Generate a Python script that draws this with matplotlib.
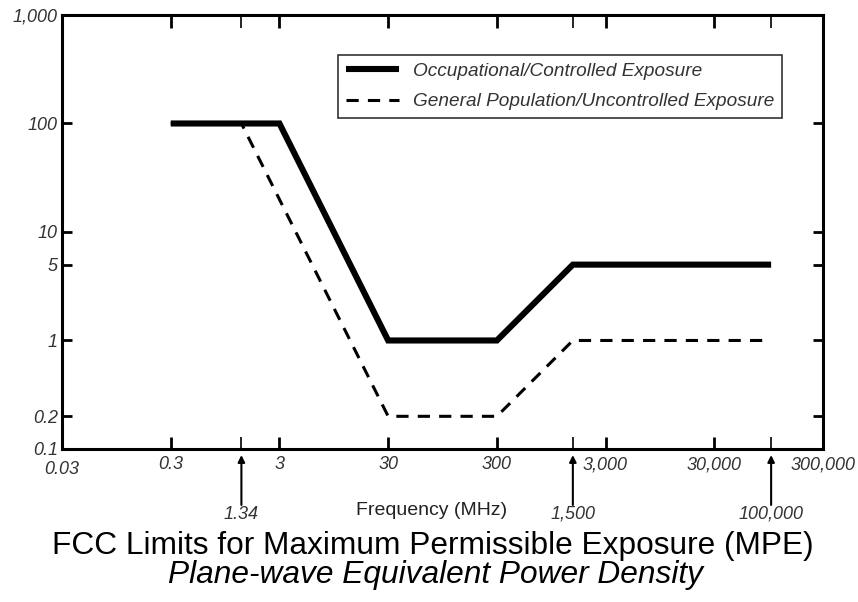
import matplotlib
matplotlib.use("Agg")
from matplotlib import pyplot as plt

plt.rcParams["font.family"] = ["Liberation Sans", "DejaVu Sans"]

# FCC MPE limits (power density, mW/cm^2) vs frequency (MHz)
occ_freq = [0.3, 3, 30, 300, 1500, 100000]
occ_mpe = [100, 100, 1, 1, 5, 5]
gen_freq = [0.3, 1.34, 30, 300, 1500, 100000]
gen_mpe = [100, 100, 0.2, 0.2, 1, 1]

x_ticks = [0.03, 0.3, 3, 30, 300, 3000, 30000, 300000]
x_tick_labels = ["0.03", "0.3", "3", "30", "300", "3,000", "30,000", "300,000"]
x_marks = [1.34, 1500, 100000]
x_mark_labels = ["1.34", "1,500", "100,000"]
y_ticks = [0.1, 0.2, 1, 5, 10, 100, 1000]
y_tick_labels = ["0.1", "0.2", "1", "5", "10", "100", "1,000"]

tick_col = "#333333"

fig = plt.figure(figsize=(8.58, 6.02), dpi=100)
ax = fig.add_axes([0.0723, 0.2542, 0.8869, 0.7209])

ax.plot(gen_freq, gen_mpe, color="black", lw=2.2, ls=(0, (4.0, 3.0)),
        label="General Population/Uncontrolled Exposure")
ax.plot(occ_freq, occ_mpe, color="black", lw=4.4, solid_capstyle="butt",
        solid_joinstyle="miter", label="Occupational/Controlled Exposure")

ax.set_xscale("log")
ax.set_yscale("log")
ax.set_xlim(0.03, 300000)
ax.set_ylim(0.1, 1000)

for s in ax.spines.values():
    s.set_linewidth(2.2)

ax.set_xticks(x_ticks)
ax.set_xticks(x_marks, minor=True)
ax.set_yticks(y_ticks)
ax.set_yticklabels(y_tick_labels, fontstyle="italic", fontsize=13, color=tick_col)
ax.set_yticks([], minor=True)
ax.tick_params(axis="x", which="both", labelbottom=False, direction="in",
               top=True, bottom=True)
ax.tick_params(axis="x", which="major", length=9, width=2)
ax.tick_params(axis="x", which="minor", length=9, width=1.2)
ax.tick_params(axis="y", which="major", direction="in", length=7, width=2,
               left=True, right=True, pad=3)

# x tick labels drawn by hand so 0.03 can sit a bit lower
for xv, lab in zip(x_ticks, x_tick_labels):
    dy = -0.048 if xv == 0.03 else -0.036
    ax.text(xv, dy, lab, transform=ax.get_xaxis_transform(), ha="center",
            va="center", fontstyle="italic", fontsize=13, color=tick_col)

# arrows pointing at the break frequencies
for xv, lab in zip(x_marks, x_mark_labels):
    ax.annotate("", xy=(xv, -0.014), xytext=(xv, -0.129),
                xycoords=("data", "axes fraction"),
                textcoords=("data", "axes fraction"),
                arrowprops=dict(arrowstyle="-|>", color="black", lw=1.5,
                                mutation_scale=10, shrinkA=0, shrinkB=0))
    ax.text(xv, -0.150, lab, transform=ax.get_xaxis_transform(), ha="center",
            va="center", fontstyle="italic", fontsize=13, color=tick_col)

ax.text(0.485, -0.142, "Frequency (MHz)", transform=ax.transAxes, ha="center",
        va="center", fontsize=14, color="#222222")

handles, labels = ax.get_legend_handles_labels()
leg = ax.legend(handles[::-1], labels[::-1], loc="upper right",
                bbox_to_anchor=(0.946, 0.908), fancybox=False, frameon=True,
                edgecolor="black", handlelength=2.78, borderpad=0.4,
                labelspacing=0.7, handletextpad=0.75, borderaxespad=0,
                prop=dict(style="italic", size=13.7))
leg.get_frame().set_linewidth(1.2)
for t in leg.get_texts():
    t.set_color(tick_col)

fig.text(0.505, 1 - 554 / 602, "FCC Limits for Maximum Permissible Exposure (MPE)",
         ha="center", va="baseline", fontsize=22.8, color="black")
fig.text(0.507, 1 - 583 / 602, "Plane-wave Equivalent Power Density",
         ha="center", va="baseline", fontsize=22.8, fontstyle="italic",
         color="black")

fig.savefig("out.png", dpi=100)
